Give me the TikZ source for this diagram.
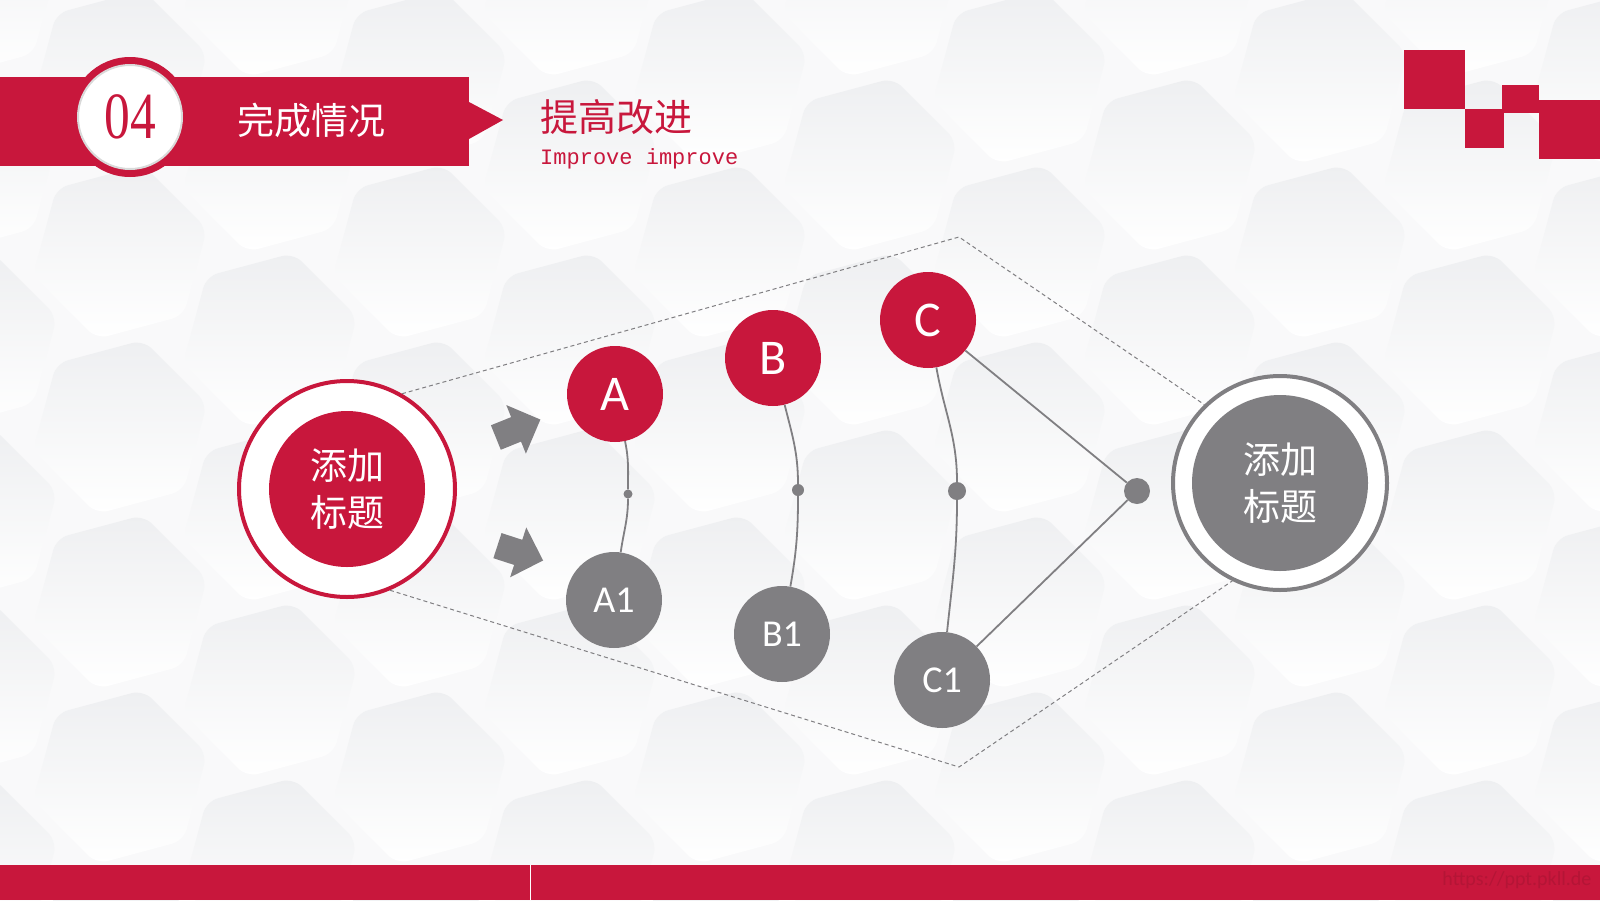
\documentclass[tikz,border=0pt]{standalone}
\usepackage{fontspec}
\setmainfont{Carlito}
\newfontfamily\cjk{Noto Sans CJK SC}
\newfontfamily\numfont{Liberation Serif}
\newfontfamily\codefont{Liberation Mono}
\usetikzlibrary{shapes.arrows,shapes.geometric}
\definecolor{brandred}{RGB}{200,23,60}
\definecolor{nodegray}{RGB}{128,127,130}
\definecolor{bgpaper}{RGB}{249,249,250}
\definecolor{bghex}{RGB}{238,239,241}

\begin{document}
\begin{tikzpicture}[x=1pt,y=-1pt,
  ball/.style={circle,minimum size=96pt,inner sep=0pt,text=white},
  redball/.style={ball,fill=brandred,font=\fontsize{50}{50}\selectfont},
  grayball/.style={ball,fill=nodegray,font=\fontsize{38}{38}\selectfont},
  knot/.style={circle,fill=nodegray,inner sep=0pt},
  link/.style={draw=nodegray,line width=1.8pt},
  frame/.style={draw=nodegray,line width=1pt,dash pattern=on 4pt off 3pt},
  turn/.style={single arrow,fill=nodegray,minimum height=48pt,inner xsep=0pt,inner ysep=13pt,
    single arrow head extend=13pt},
  title/.style={text=white,font=\cjk\fontsize{37}{47}\selectfont,align=center},
  hex/.style={regular polygon,regular polygon sides=6,minimum size=180pt,
    rounded corners=12pt,top color=bghex,bottom color=white,rotate=15,inner sep=0pt}
]
\useasboundingbox (0,0) rectangle (1600,900);
\fill[bgpaper] (0,0) rectangle (1600,900);

% background hexagons
\foreach \i in {0,...,11}
  \foreach \j in {0,...,5}{
    \pgfmathsetmacro{\hx}{-30+150*\i}
    \pgfmathsetmacro{\hy}{-10+175*\j+87*mod(\i,2)}
    \node[hex] at (\hx,\hy) {};
  }

% header
\fill[brandred] (0,77) rectangle (469,166);
\fill[brandred] (469,102) -- (503,120) -- (469,139) -- cycle;
\node[circle,fill=brandred,minimum size=120pt,inner sep=0pt] (badge) at (130,117) {};
\node[circle,fill=white,draw=gray!30,line width=2pt,minimum size=104pt,inner sep=0pt,
  text=brandred,font=\numfont\fontsize{66}{66}\selectfont] (num) at (badge) {\scalebox{.78}[1]{04}};
\node[text=white,font=\cjk\fontsize{37}{40}\selectfont] (section) at (311,120) {完成情况};
\node[anchor=west,inner sep=0pt,text=brandred,font=\cjk\fontsize{38}{40}\selectfont] (head) at (540,117) {提高改进};
\node[anchor=west,inner sep=0pt,text=brandred,font=\codefont\fontsize{22}{24}\selectfont] (sub) at (540,159) {Improve improve};

% corner squares
\fill[brandred] (1404,50) rectangle (1465,109);
\fill[brandred] (1465,109) rectangle (1504,148);
\fill[brandred] (1502,85) rectangle (1539,113);
\fill[brandred] (1539,100) rectangle (1600,159);

% bottom bar
\fill[brandred] (0,865) rectangle (1600,900);
\draw[white,line width=1pt] (530,865) -- (530,900);
\node[anchor=east,text=brandred!90!black,font=\fontsize{20}{20}\selectfont] (mark) at (1595,880) {https://ppt.pkll.de};

% outer circles
\node[circle,draw=brandred,line width=4pt,fill=white,minimum size=216pt,inner sep=0pt] (lring) at (347,489) {};
\node[circle,fill=brandred,minimum size=156pt,inner sep=0pt,title] (start) at (lring) {添加\\标题};
\node[circle,draw=nodegray,line width=4pt,fill=white,minimum size=214pt,inner sep=0pt] (rring) at (1280,483) {};
\node[circle,fill=nodegray,minimum size=176pt,inner sep=0pt,title] (goal) at (rring) {添加\\标题};

% dashed frame
\coordinate (top) at (959,237);
\coordinate (bot) at (959,767);
\draw[frame] (lring.60) -- (top) -- (rring.134);
\draw[frame] (lring.-67) -- (bot) -- (rring.-116);

% arrows
\node[turn,rotate=22] (up) at (512,431) {};
\node[turn,rotate=-18] (down) at (514,551) {};

% steps
\node[redball] (A) at (615,394) {A};
\node[redball] (B) at (773,358) {B};
\node[redball] (C) at (928,320) {C};
\node[grayball] (A1) at (614,600) {A1};
\node[grayball] (B1) at (782,634) {B1};
\node[grayball] (C1) at (942,680) {C1};
\node[knot,minimum size=9pt] (ka) at (628,494) {};
\node[knot,minimum size=12pt] (kb) at (798,490) {};
\node[knot,minimum size=18pt] (kc) at (957,491) {};
\node[knot,minimum size=26pt] (join) at (1137,491) {};

\draw[link] (A) to[out=-78,in=90] (ka) to[out=-90,in=82] (A1);
\draw[link] (B) to[out=-76,in=90] (kb) to[out=-90,in=80] (B1);
\draw[link] (C) to[out=-80,in=90] (kc) to[out=-90,in=84] (C1);
\draw[link] (C) -- (join);
\draw[link] (C1) -- (join);
\end{tikzpicture}
\end{document}
